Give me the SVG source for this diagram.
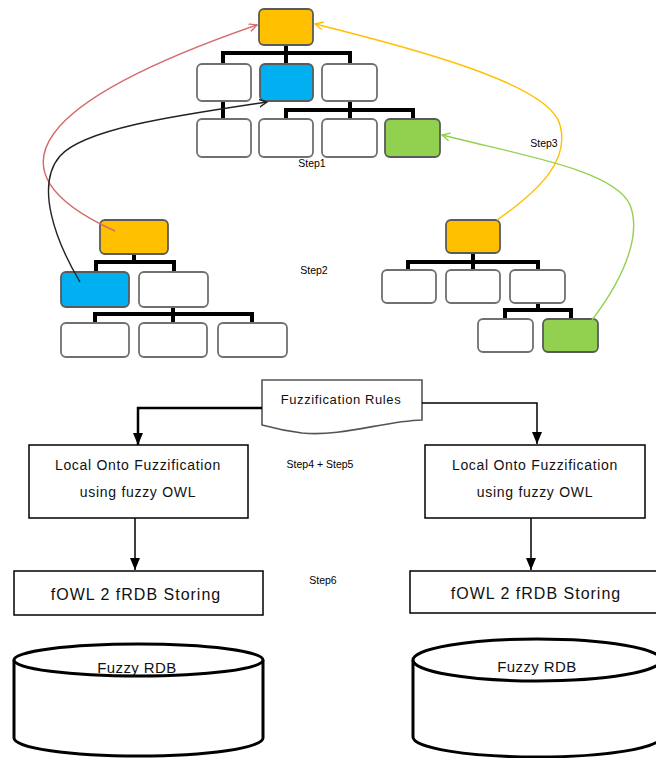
<svg xmlns="http://www.w3.org/2000/svg" width="656" height="758" viewBox="0 0 656 758">
<style>
.n{fill:#fff;stroke:#707070;stroke-width:1.8}
.o{fill:#FFC000;stroke:#5a5a5a;stroke-width:1.8}
.b{fill:#00B0F0;stroke:#5a5a5a;stroke-width:1.8}
.g{fill:#92D050;stroke:#5a5a5a;stroke-width:1.8}
.t{fill:none;stroke:#000;stroke-width:4;stroke-linejoin:miter}
.c{fill:none;stroke-width:1.4}
.box{fill:#fff;stroke:#000;stroke-width:1.5}
.lbl{font-family:"Liberation Sans",Arial,sans-serif;fill:#111;text-anchor:middle}
.step{font-family:"Liberation Sans",Arial,sans-serif;font-size:10.5px;fill:#000;text-anchor:middle}
.cyl{fill:#fff;stroke:#000;stroke-width:3}
</style>
<defs>
<marker id="mr" markerWidth="10" markerHeight="10" refX="8" refY="4" orient="auto" markerUnits="userSpaceOnUse"><path d="M0,0 L8,4 L0,8" fill="none" stroke="#D46A6A" stroke-width="1.4"/></marker>
<marker id="my" markerWidth="10" markerHeight="10" refX="8" refY="4" orient="auto" markerUnits="userSpaceOnUse"><path d="M0,0 L8,4 L0,8" fill="none" stroke="#FFC000" stroke-width="1.4"/></marker>
<marker id="mk" markerWidth="10" markerHeight="10" refX="8" refY="4" orient="auto" markerUnits="userSpaceOnUse"><path d="M0,0 L8,4 L0,8" fill="none" stroke="#222" stroke-width="1.4"/></marker>
<marker id="mg" markerWidth="10" markerHeight="10" refX="8" refY="4" orient="auto" markerUnits="userSpaceOnUse"><path d="M0,0 L8,4 L0,8" fill="none" stroke="#92D050" stroke-width="1.4"/></marker>
<marker id="mf" markerWidth="14" markerHeight="12" refX="12" refY="5" orient="auto" markerUnits="userSpaceOnUse"><path d="M0,0 L12,5 L0,10 Z" fill="#000"/></marker>
</defs>

<!-- tree connectors -->
<g id="tree-lines">
<path class="t" d="M286,45 V53 M223,64 V53 H350 V64 M286,53 V64 M223,101 V119 M350,101 V110 M286,119 V110 H413 V119 M350,110 V119"/>
<path class="t" d="M134,254 V262 M96,272 V262 H174 V272 M173,307 V314 M95,323 V314 H252 V323 M173,314 V323"/>
<path class="t" d="M473,253 V262 M408,270 V262 H538 V270 M473,262 V270 M538,303 V310 M505,319 V310 H571 V319"/>
</g>

<!-- top tree -->
<g id="top-root"><rect class="o" x="259" y="9" width="54" height="36" rx="5"/></g>
<g id="top-a"><rect class="n" x="197" y="64" width="54" height="37" rx="5"/></g>
<g id="top-b"><rect class="b" x="260" y="64" width="53" height="37" rx="5"/></g>
<g id="top-c"><rect class="n" x="322" y="64" width="55" height="37" rx="5"/></g>
<g id="top-a1"><rect class="n" x="197" y="119" width="54" height="38" rx="5"/></g>
<g id="top-c1"><rect class="n" x="259" y="119" width="54" height="38" rx="5"/></g>
<g id="top-c2"><rect class="n" x="322" y="119" width="55" height="38" rx="5"/></g>
<g id="top-c3"><rect class="g" x="385" y="119" width="55" height="38" rx="5"/></g>

<!-- left tree -->
<g id="left-root"><rect class="o" x="100" y="220" width="68" height="34" rx="5"/></g>
<g id="left-a"><rect class="b" x="61" y="272" width="68" height="35" rx="5"/></g>
<g id="left-b"><rect class="n" x="139" y="272" width="69" height="35" rx="5"/></g>
<g id="left-b1"><rect class="n" x="61" y="323" width="68" height="34" rx="5"/></g>
<g id="left-b2"><rect class="n" x="139" y="323" width="68" height="34" rx="5"/></g>
<g id="left-b3"><rect class="n" x="218" y="323" width="69" height="34" rx="5"/></g>

<!-- right tree -->
<g id="right-root"><rect class="o" x="446" y="220" width="54" height="33" rx="5"/></g>
<g id="right-a"><rect class="n" x="382" y="270" width="54" height="33" rx="5"/></g>
<g id="right-b"><rect class="n" x="446" y="270" width="54" height="33" rx="5"/></g>
<g id="right-c"><rect class="n" x="510" y="270" width="55" height="33" rx="5"/></g>
<g id="right-c1"><rect class="n" x="478" y="319" width="55" height="33" rx="5"/></g>
<g id="right-c2"><rect class="g" x="543" y="319" width="55" height="33" rx="5"/></g>

<!-- step labels -->
<text class="step" x="312" y="167">Step1</text>
<text class="step" x="314" y="274">Step2</text>
<text class="step" x="544" y="147">Step3</text>
<text class="step" x="320" y="468">Step4 + Step5</text>
<text class="step" x="323" y="584">Step6</text>

<!-- bottom nodes -->
<g id="fuzz-rules">
<path d="M262,380 H422 V420 C384,421 342,437 302,433 C286,431 273,428 262,425 Z" fill="#fff" stroke="#555" stroke-width="1.6"/>
<text class="lbl" x="341" y="404" font-size="13" letter-spacing="0.6">Fuzzification Rules</text>
</g>
<g id="local-left">
<rect class="box" x="29" y="445" width="219" height="73"/>
<text class="lbl" x="138" y="470" font-size="14" letter-spacing="0.7">Local Onto Fuzzification</text>
<text class="lbl" x="138" y="497" font-size="14" letter-spacing="0.7">using fuzzy OWL</text>
</g>
<g id="local-right">
<rect class="box" x="425" y="445" width="220" height="73"/>
<text class="lbl" x="535" y="470" font-size="14" letter-spacing="0.7">Local Onto Fuzzification</text>
<text class="lbl" x="535" y="497" font-size="14" letter-spacing="0.7">using fuzzy OWL</text>
</g>
<g id="store-left">
<rect class="box" x="14" y="571" width="249" height="44"/>
<text class="lbl" x="136" y="600" font-size="16" letter-spacing="1">fOWL 2 fRDB Storing</text>
</g>
<g id="store-right">
<rect class="box" x="410" y="571" width="252" height="42"/>
<text class="lbl" x="536" y="599" font-size="16" letter-spacing="1">fOWL 2 fRDB Storing</text>
</g>
<g id="db-left">
<path class="cyl" d="M14,660 V738 A124.5,18 0 0 0 263,738 V660"/>
<ellipse class="cyl" cx="138.5" cy="660" rx="124.5" ry="16"/>
<text class="lbl" x="137" y="673" font-size="15" letter-spacing="0.4">Fuzzy RDB</text>
</g>
<g id="db-right">
<path class="cyl" d="M413,660 V737 A124,20 0 0 0 661,737 V660"/>
<ellipse class="cyl" cx="537" cy="660" rx="124" ry="21"/>
<text class="lbl" x="537" y="672" font-size="15" letter-spacing="0.4">Fuzzy RDB</text>
</g>

<!-- connectors -->
<g id="connectors">
<path class="c" stroke="#D46A6A" d="M115,231 C-20,170 40,100 257,25" marker-end="url(#mr)"/>
<path class="c" stroke="#222" d="M80,282 C55,240 35,185 60,156 C85,128 180,115 267,102" marker-end="url(#mk)"/>
<path class="c" stroke="#FFC000" d="M497,220 C540,190 570,160 560,125 C550,85 420,50 315,24" marker-end="url(#my)"/>
<path class="c" stroke="#92D050" d="M592,320 C630,270 640,230 630,205 C615,170 520,155 442,135" marker-end="url(#mg)"/>
<path fill="none" stroke="#000" stroke-width="2.5" d="M262,408 H138 V445" marker-end="url(#mf)"/>
<path fill="none" stroke="#000" stroke-width="1.5" d="M422,403 H537 V444" marker-end="url(#mf)"/>
<path fill="none" stroke="#000" stroke-width="1.5" d="M135,518 V570" marker-end="url(#mf)"/>
<path fill="none" stroke="#000" stroke-width="1.5" d="M531,518 V570" marker-end="url(#mf)"/>
</g>
</svg>
